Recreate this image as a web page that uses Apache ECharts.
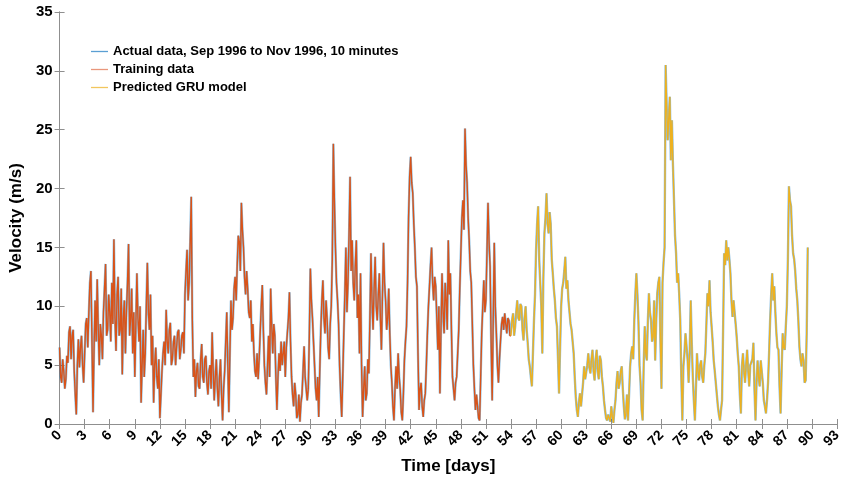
<!DOCTYPE html>
<html>
<head>
<meta charset="utf-8">
<title>Wind velocity - GRU prediction</title>
<script src="https://cdn.jsdelivr.net/npm/echarts@6/dist/echarts.min.js"></script>
<style>
  html, body { margin: 0; padding: 0; background: #fff; }
  #main { width: 849px; height: 481px; }
</style>
</head>
<body>
<div id="main"></div>
<script>
// readings taken off the figure every quarter of a day (day 0, 0.25, 0.5 ...)
var stepDays = 0.25;
var speedOnQuarter = [
  6.5, 3.5, 4.5, 3.8, 5.2, 8.3, 7.5, 4.5, 0.8, 7.2, 6.5, 5.0,       // 0-3
  6.0, 9.0, 9.5, 13.0, 1.0, 10.5, 12.3, 5.0, 7.5, 9.5, 13.6, 8.0,   // 3-6
  9.5, 12.0, 15.7, 6.2, 12.5, 8.0, 4.2, 10.5, 9.5, 15.3, 9.0, 6.0,  // 6-9
  4.0, 12.8, 7.0, 1.8, 8.0, 6.0, 13.7, 8.0, 5.0, 1.8, 6.5, 3.0,     // 9-12
  0.5, 4.5, 7.0, 9.7, 6.0, 8.6, 5.5, 7.5, 6.5, 8.0, 6.3, 7.8,       // 12-15
  11.0, 14.8, 12.0, 19.3, 4.0, 2.3, 5.2, 3.0, 6.8, 3.5, 5.8, 2.5,   // 15-18
  5.0, 7.8, 2.0, 5.5, 1.5, 5.5, 0.3, 4.5, 9.5, 1.0, 10.5, 9.0,      // 18-21
  12.5, 13.5, 15.5, 18.8, 15.0, 11.0, 11.5, 9.0, 7.0, 6.0, 4.0, 3.8, // 21-24
  7.8, 11.8, 5.0, 2.5, 7.5, 11.5, 6.0, 7.5, 1.2, 6.0, 7.0, 5.0,     // 24-27
  4.0, 6.5, 11.2, 4.0, 1.5, 2.5, 0.8, 0.2, 2.5, 6.6, 4.0, 3.0,      // 27-30
  13.2, 9.0, 5.0, 2.0, 0.6, 8.0, 12.2, 7.7, 9.0, 5.5, 10.0, 23.8,   // 30-33
  15.0, 10.5, 4.9, 0.6, 7.7, 15.0, 12.0, 21.0, 15.6, 10.5, 15.6, 11.0, // 33-36
  12.8, 0.6, 4.9, 2.6, 4.3, 14.5, 8.0, 14.2, 8.8, 12.8, 6.3, 15.4,  // 36-39
  10.5, 9.0, 7.7, 3.5, 0.3, 4.9, 6.0, 2.9, 0.3, 5.4, 8.3, 17.6,     // 39-42
  22.7, 19.6, 15.0, 11.7, 1.2, 3.5, 0.6, 2.6, 7.7, 11.7, 15.0, 10.5, // 42-45
  11.7, 6.3, 2.6, 12.8, 7.7, 10.5, 15.6, 12.8, 4.0, 2.0, 4.0, 8.0,  // 45-48
  14.5, 19.0, 25.1, 20.5, 15.6, 12.0, 5.0, 1.2, 1.5, 0.3, 7.7, 12.2, // 48-51
  10.5, 18.8, 13.4, 2.0, 15.4, 7.7, 3.5, 7.1, 9.1, 9.4, 7.7, 8.8,   // 51-54
  7.5, 9.4, 8.3, 10.5, 8.8, 10.0, 7.1, 10.0, 6.9, 4.9, 3.2, 8.8,    // 54-57
  14.8, 18.5, 12.0, 6.0, 16.2, 19.6, 16.2, 17.0, 12.8, 10.5, 8.3, 2.6, // 57-60
  10.0, 12.0, 14.2, 12.2, 9.5, 8.0, 6.0, 2.3, 0.6, 2.6, 1.5, 4.9,   // 60-63
  3.7, 6.0, 4.3, 6.3, 3.7, 6.3, 3.8, 5.4, 3.2, 1.2, 0.3, 0.9,       // 63-66
  1.5, 0.1, 2.0, 4.5, 3.5, 4.9, 1.5, 0.9, 0.3, 4.9, 6.6, 8.8,       // 66-69
  12.8, 8.6, 3.5, 0.3, 8.3, 5.4, 11.1, 8.8, 7.4, 5.4, 11.1, 12.5,   // 69-72
  3.0, 13.7, 30.5, 24.1, 27.8, 25.8, 19.0, 14.5, 12.8, 8.8, 0.3, 6.0, // 72-75
  7.7, 3.5, 10.5, 4.0, 0.3, 6.0, 3.7, 5.4, 3.5, 6.0, 11.1, 12.2,    // 75-78
  8.3, 5.4, 3.5, 1.5, 0.3, 2.0, 14.5, 15.6, 15.0, 12.8, 9.1, 10.5,  // 78-81
  7.4, 4.9, 0.9, 6.0, 3.5, 6.3, 3.2, 4.9, 6.9, 0.3, 5.4, 3.2,       // 81-84
  5.4, 2.0, 0.9, 3.5, 8.8, 12.8, 11.7, 7.7, 6.3, 0.9, 7.7, 6.3,     // 84-87
  10.0, 20.2, 18.5, 14.5, 13.0, 10.5, 6.6, 4.9, 5.4, 3.7, 15.0      // 87-89.5
];
// readings half way between those (day 0.125, 0.375 ...)
var speedBetween = [
  4.0, 5.5, 3.0, 5.8, 7.8, 5.5, 8.0, 2.5, 5.0, 4.8, 7.5, 3.5,       // 0-3
  8.5, 6.5, 12.0, 7.0, 6.5, 7.0, 8.0, 8.5, 5.5, 11.5, 7.5, 11.0,    // 3-6
  7.0, 8.5, 9.0, 11.0, 7.5, 11.5, 9.0, 6.0, 12.0, 7.5, 11.5, 9.5,   // 6-9
  8.5, 9.0, 10.0, 5.0, 4.0, 10.0, 9.5, 11.0, 7.5, 5.0, 4.0, 5.5,    // 9-12
  2.5, 6.0, 5.0, 7.0, 8.0, 5.0, 7.0, 5.0, 7.8, 5.5, 7.5, 6.0,       // 12-15
  13.0, 10.5, 15.5, 9.0, 5.5, 4.5, 3.2, 5.5, 4.0, 5.5, 3.5, 4.5,    // 15-18
  3.0, 4.5, 4.0, 3.0, 4.0, 2.5, 3.0, 7.0, 5.0, 6.0, 8.0, 11.5,      // 18-21
  10.5, 16.0, 13.0, 16.5, 12.5, 13.0, 9.5, 10.5, 8.5, 4.5, 6.0, 5.5, // 21-24
  10.0, 8.0, 3.5, 5.0, 4.0, 8.5, 8.5, 4.0, 4.0, 4.5, 5.0, 7.0,      // 24-27
  6.5, 9.0, 7.0, 2.5, 3.5, 0.5, 2.5, 1.8, 4.5, 4.0, 2.0, 7.5,       // 27-30
  10.5, 7.0, 3.0, 4.0, 4.5, 10.5, 9.0, 10.5, 6.5, 8.5, 14.0, 19.0,  // 30-33
  12.0, 8.5, 2.5, 4.0, 11.0, 9.5, 16.0, 13.0, 12.0, 13.5, 9.0, 6.0, // 33-36
  5.0, 3.0, 2.0, 5.5, 9.0, 10.5, 11.5, 10.0, 11.0, 9.0, 11.0, 12.0, // 36-39
  8.0, 11.5, 5.0, 1.5, 3.0, 3.0, 4.0, 1.0, 2.5, 7.0, 12.0, 21.0,    // 39-42
  20.5, 17.0, 12.5, 6.0, 3.0, 1.5, 2.0, 5.0, 10.0, 13.5, 12.0, 12.5, // 42-45
  9.0, 10.0, 8.0, 9.5, 12.0, 8.0, 11.0, 8.0, 3.0, 3.5, 6.0, 11.5,   // 45-48
  17.5, 16.5, 22.0, 17.5, 13.0, 8.5, 3.0, 2.5, 0.5, 4.0, 10.0, 9.5, // 48-51
  14.5, 15.5, 7.0, 9.0, 10.0, 5.0, 5.5, 8.5, 8.0, 8.5, 9.0, 7.5,    // 51-54
  8.8, 7.5, 9.5, 9.0, 10.2, 8.0, 9.0, 8.0, 5.5, 4.0, 6.0, 11.0,     // 54-57
  17.0, 14.0, 10.0, 12.5, 17.5, 17.0, 18.0, 14.0, 11.5, 9.0, 5.5, 6.5, // 57-60
  11.5, 13.0, 11.5, 10.5, 8.5, 7.0, 4.0, 1.2, 1.8, 1.5, 3.5, 3.8,   // 60-63
  5.0, 4.8, 5.5, 4.5, 5.5, 4.5, 5.8, 4.0, 2.0, 0.5, 0.8, 0.2,       // 63-66
  0.6, 1.2, 3.5, 3.0, 4.5, 3.0, 0.4, 2.5, 2.5, 6.0, 5.5, 11.0,      // 66-69
  11.0, 5.0, 1.2, 5.0, 6.0, 8.8, 9.5, 7.0, 10.5, 8.8, 12.0, 7.0,    // 69-72
  12.0, 15.0, 27.0, 26.0, 22.4, 22.0, 16.0, 12.0, 11.0, 4.0, 4.9, 7.7, // 72-75
  5.5, 6.0, 6.9, 2.0, 3.0, 4.5, 5.0, 4.0, 5.0, 8.5, 10.0, 9.5,      // 75-78
  7.0, 4.5, 2.5, 0.8, 1.2, 8.0, 13.5, 13.9, 14.0, 10.5, 10.5, 8.5,  // 78-81
  6.0, 2.5, 4.9, 4.5, 5.0, 4.5, 5.0, 5.5, 3.0, 3.5, 4.0, 5.4,       // 81-84
  3.5, 1.5, 2.0, 6.0, 11.0, 10.5, 9.5, 6.5, 3.2, 4.5, 6.5, 8.3,     // 84-87
  14.0, 19.0, 16.0, 14.0, 11.5, 8.8, 5.5, 6.0, 3.5, 7.7             // 87-89.5
];
var trainEndDay = 54;

var seriesNames = ['Actual data, Sep 1996 to Nov 1996, 10 minutes', 'Training data', 'Predicted GRU model'];
var seriesColors = ['#0072BD', '#D95319', '#EDB120'];
var legendColors = ['#5b9fd3', '#e9977c', '#f2c65e'];
var xMin = 0, xMax = 93, xStep = 3;
var yMin = 0, yMax = 35, yStep = 5;

// merge both readings into one time-ordered series
var actualPts = [];
speedOnQuarter.forEach(function (v, i) {
  actualPts.push([i * stepDays, v]);
  if (i < speedBetween.length) actualPts.push([(i + 0.5) * stepDays, speedBetween[i]]);
});
var trainPts = actualPts.filter(function (p) { return p[0] <= trainEndDay; });
var predPts = actualPts.filter(function (p) { return p[0] >= trainEndDay; });

var font = "'Liberation Sans', Arial, Helvetica, sans-serif";
var boxColor = '#8f8f8f';

var chart = echarts.init(document.getElementById('main'));
chart.setOption({
  animation: false,
  backgroundColor: '#fff',
  textStyle: { fontFamily: font },
  grid: { left: 50, right: 12, top: 12, bottom: 57 },
  legend: {
    orient: 'vertical',
    left: 86,
    top: 40,
    icon: 'rect',
    itemWidth: 17,
    itemHeight: 1.3,
    itemGap: 5,
    textStyle: { fontFamily: font, fontWeight: 'bold', fontSize: 13, color: '#000' },
    data: seriesNames.map(function (n, i) {
      return { name: n, itemStyle: { color: legendColors[i], borderWidth: 0 } };
    })
  },
  xAxis: [{
    type: 'value',
    min: xMin, max: xMax, interval: xStep,
    name: 'Time [days]',
    nameLocation: 'middle',
    nameGap: 34,
    nameTextStyle: { fontFamily: font, fontWeight: 'bold', fontSize: 17, color: '#000' },
    axisLine: { show: true, lineStyle: { color: boxColor } },
    axisTick: { inside: true, length: 5, lineStyle: { color: boxColor } },
    axisLabel: { rotate: 45, margin: 9, fontWeight: 'bold', fontSize: 14, color: '#000' },
    splitLine: { show: false }
  }, {
    type: 'value', position: 'top',
    min: xMin, max: xMax, interval: xStep,
    axisLine: { show: true, lineStyle: { color: boxColor } },
    axisTick: { inside: true, length: 5, lineStyle: { color: boxColor } },
    axisLabel: { show: false },
    splitLine: { show: false }
  }],
  yAxis: [{
    type: 'value',
    min: yMin, max: yMax, interval: yStep,
    name: 'Velocity (m/s)',
    nameLocation: 'middle',
    nameGap: 27,
    nameTextStyle: { fontFamily: font, fontWeight: 'bold', fontSize: 17, color: '#000' },
    axisLine: { show: true, lineStyle: { color: boxColor } },
    axisTick: { show: true, inside: true, length: 5, lineStyle: { color: boxColor } },
    axisLabel: { margin: 7, fontWeight: 'bold', fontSize: 15, color: '#000' },
    splitLine: { show: false }
  }, {
    type: 'value', position: 'right',
    min: yMin, max: yMax, interval: yStep,
    axisLine: { show: true, lineStyle: { color: boxColor } },
    axisTick: { show: true, inside: true, length: 5, lineStyle: { color: boxColor } },
    axisLabel: { show: false },
    splitLine: { show: false }
  }],
  series: [{
    name: seriesNames[0],
    type: 'line',
    data: actualPts,
    symbol: 'none',
    color: seriesColors[0],
    lineStyle: { width: 2.4, opacity: 0.45 }
  }, {
    name: seriesNames[1],
    type: 'line',
    data: trainPts,
    symbol: 'none',
    color: seriesColors[1],
    lineStyle: { width: 1.4 }
  }, {
    name: seriesNames[2],
    type: 'line',
    data: predPts,
    symbol: 'none',
    color: seriesColors[2],
    lineStyle: { width: 1.4 }
  }]
});
</script>
</body>
</html>
